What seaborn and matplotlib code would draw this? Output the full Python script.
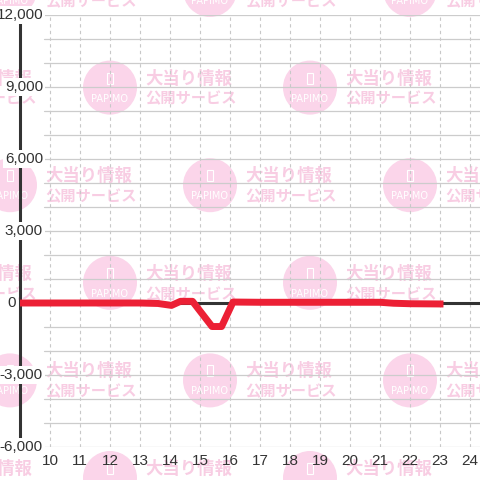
import matplotlib
matplotlib.use('Agg')
import matplotlib.pyplot as plt
import matplotlib.transforms as mtransforms
from matplotlib.patches import Circle, Rectangle
import seaborn as sns

# data: hour of day vs. balance
hours = [9, 10, 11, 12, 13, 13.6, 14.05, 14.35, 14.75, 15.4, 15.72, 16.1, 17, 18, 19, 20, 21, 21.45, 22, 23]
diff = [0, 0, 0, 0, 0, -20, -100, 70, 70, -980, -980, 40, 30, 30, 30, 30, 30, -10, -30, -40]

x_ticks = list(range(10, 25))
y_grid = list(range(-6000, 12001, 1000))
y_labels = list(range(-6000, 12001, 3000))

wm_line1 = '大当り情報'
wm_line2 = '公開サービス'
wm_logo = 'PAPIMO'

sns.set_style('white')
plt.rcParams['font.family'] = ['Liberation Sans', 'DejaVu Sans']

fig = plt.figure(figsize=(4.8, 4.8), dpi=100)
fig.patch.set_facecolor('white')

# background watermark
bg = fig.add_axes([0, 0, 1, 1], zorder=0)
bg.set_xlim(0, 480)
bg.set_ylim(480, 0)
bg.axis('off')
pink = '#fbd5ea'
pink_txt = '#f8cde3'
for k in range(6):
    cy = -10 + 97.6 * k
    off = 100 if k % 2 else 0
    for j in range(-1, 3):
        cx = 10 + off + 200 * j
        bg.add_patch(Circle((cx, cy), 27, color=pink, lw=0))
        bg.add_patch(Rectangle((cx - 3, cy - 15), 6, 11, fill=False, ec='white', lw=0.8))
        bg.text(cx, cy + 11, wm_logo, color='white', fontsize=7, ha='center', va='center',
                family='DejaVu Sans')
        bg.text(cx + 35, cy - 9, wm_line1, color=pink_txt, fontsize=12.5, ha='left', va='center',
                family=['Noto Sans CJK JP', 'DejaVu Sans'], fontweight='bold')
        bg.text(cx + 35, cy + 11, wm_line2, color=pink_txt, fontsize=11, ha='left', va='center',
                family=['Noto Sans CJK JP', 'DejaVu Sans'], fontweight='bold')

# main chart
ax = fig.add_axes([20 / 480, 33 / 480, 460 / 480, 432 / 480], zorder=1)
ax.set_facecolor('none')

sns.lineplot(x=hours, y=diff, ax=ax, color='#ec2035', linewidth=5, zorder=4,
             solid_capstyle='projecting', solid_joinstyle='round')

ax.set_xlim(9, 9 + 460 / 30)
ax.set_ylim(-6000, 12000)

for gy in y_grid:
    ax.axhline(gy, xmin=24 / 460, color='#cccccc', lw=0.9, zorder=1)
ax.axhline(0, color='#333333', lw=2.2, zorder=2)

ax.set_xticks(x_ticks)
ax.set_xticklabels([str(t) for t in x_ticks])
ax.xaxis.grid(True, linestyle=(0, (3, 3)), color='#c8c8c8', lw=0.8)
ax.set_yticks([])
ax.tick_params(axis='x', length=0, pad=5, labelsize=11, labelcolor='#333333')
ax.set_xlabel('')
ax.set_ylabel('')

for s in ['top', 'right', 'bottom']:
    ax.spines[s].set_visible(False)
ax.spines['left'].set_color('#333333')
ax.spines['left'].set_linewidth(2.2)

trans = mtransforms.blended_transform_factory(ax.transAxes, ax.transData)
for v in y_labels:
    xpos = -4 / 460 if v == 0 else 23 / 460
    ax.text(xpos, v, f'{v:,}', transform=trans, ha='right', va='center', fontsize=11,
            color='#333333', zorder=6,
            bbox=dict(boxstyle='square,pad=0.1', fc='white', ec='none'))

fig.savefig('out.png', dpi=100)
